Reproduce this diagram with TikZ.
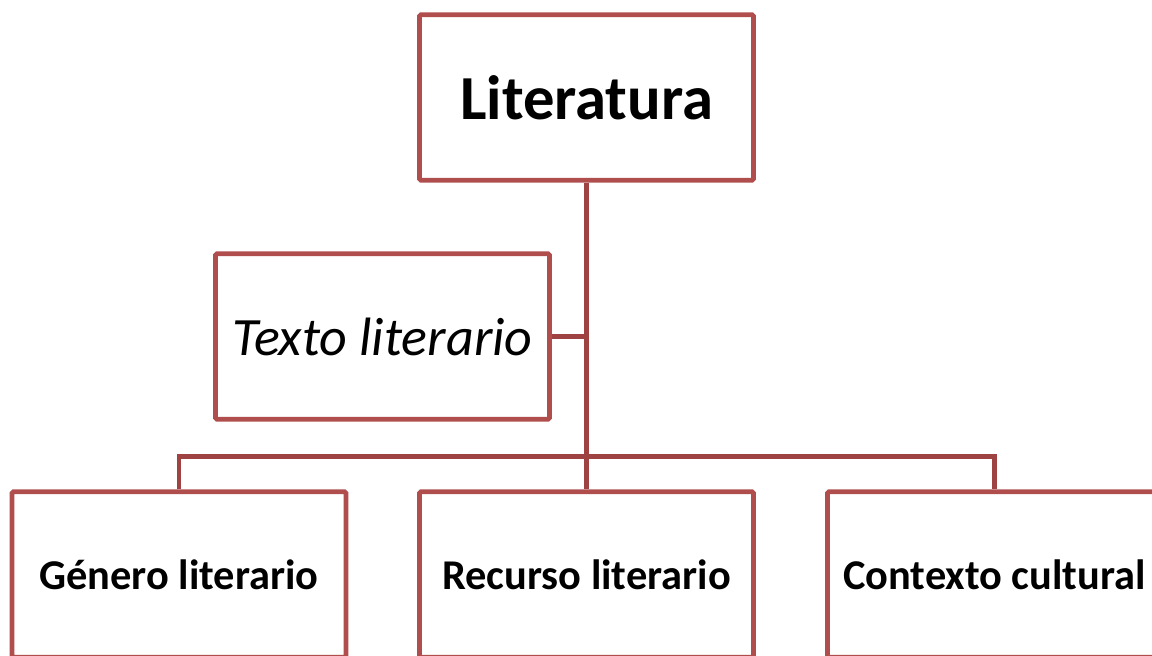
\documentclass[tikz,border=0pt]{standalone}
\usepackage{fontspec}
\setmainfont{Carlito}
\usetikzlibrary{positioning}

\definecolor{boxred}{HTML}{B04E4E}
\definecolor{linered}{HTML}{9E4242}

\begin{document}
\begin{tikzpicture}
			[x=0.75pt, y=-0.75pt,
			 box/.style={draw=boxred, line width=3.6pt, fill=white, rounded corners=1pt,
			   minimum width=250.5pt, minimum height=124pt, inner sep=0pt, align=center},
			 small/.style={font=\bfseries\fontsize{31.8}{36}\selectfont},
			 link/.style={draw=linered, line width=3.6pt}]
			\useasboundingbox (0,0) rectangle (1152,656);
			\node[box, font=\bfseries\fontsize{47}{52}\selectfont] (lit) at (586.5,97.5) {Literatura};
			\node[box, font=\itshape\fontsize{40.5}{45}\selectfont] (texto) at (382.5,336.5) {Texto literario};
			\node[box, small] (genero) at (179,574.5) {Género literario};
			\node[box, small] (recurso) at (586.5,574.5) {Recurso literario};
			\node[box, small] (contexto) at (994.5,574.5) {Contexto cultural};
			\coordinate (bus) at (586.5,456.5);
			\draw[link] (lit.south) -- (recurso.north);
			\draw[link] (texto.east) -- (texto.east -| lit.south);
			\draw[link] (genero.north) |- (bus) -| (contexto.north);
		\end{tikzpicture}
\end{document}
